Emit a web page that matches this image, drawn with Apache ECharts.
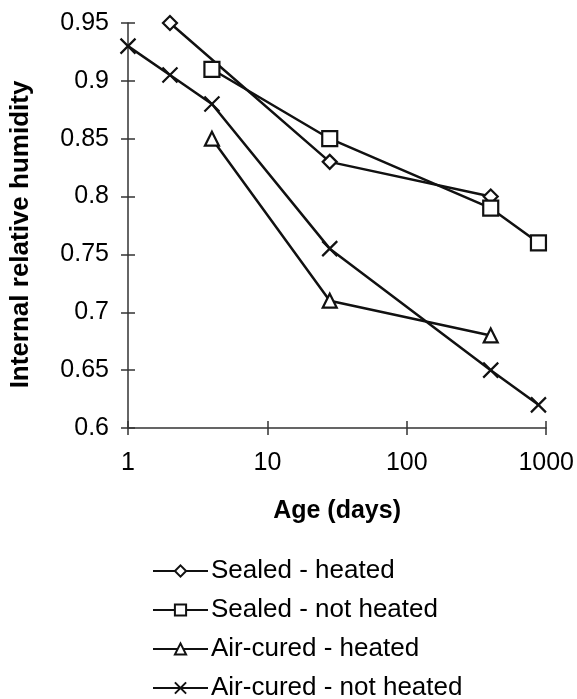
<!DOCTYPE html>
<html>
<head>
<meta charset="utf-8">
<script src="https://cdn.jsdelivr.net/npm/echarts@6/dist/echarts.min.js"></script>
<style>html,body{margin:0;padding:0;background:#fff}#c{width:577px;height:699px}</style>
</head>
<body>
<div id="c"></div>
<script>
var seriesNames = ['Sealed - heated', 'Sealed - not heated', 'Air-cured - heated', 'Air-cured - not heated'];
var sealedHeatedAge = [2, 28, 400];
var sealedHeatedRH = [0.95, 0.83, 0.80];
var sealedNotHeatedAge = [4, 28, 400, 880];
var sealedNotHeatedRH = [0.91, 0.85, 0.79, 0.76];
var airHeatedAge = [4, 28, 400];
var airHeatedRH = [0.85, 0.71, 0.68];
var airNotHeatedAge = [1, 2, 4, 28, 400, 880];
var airNotHeatedRH = [0.93, 0.905, 0.88, 0.755, 0.65, 0.62];
var xTicks = [1, 10, 100, 1000];
var yMin = 0.6, yMax = 0.95, yStep = 0.05;

function pairs(a, b) { return a.map(function (v, i) { return [v, b[i]]; }); }

var font = 'Liberation Sans, Arial, sans-serif';
var ink = '#000';
var symbols = ['diamond', 'rect', 'triangle', 'path://M0,0L10,10M10,0L0,10'];
var sizes = [14, 15, 14, 15];
var datasets = [
  pairs(sealedHeatedAge, sealedHeatedRH),
  pairs(sealedNotHeatedAge, sealedNotHeatedRH),
  pairs(airHeatedAge, airHeatedRH),
  pairs(airNotHeatedAge, airNotHeatedRH)
];

var chart = echarts.init(document.getElementById('c'), null, { renderer: 'canvas' });

var baseX = {
  type: 'log', logBase: 10, min: xTicks[0], max: xTicks[xTicks.length - 1],
  gridIndex: 0, position: 'bottom',
  splitLine: { show: false }, minorTick: { show: false }
};
var baseY = {
  type: 'value', min: yMin, max: yMax, interval: yStep,
  gridIndex: 0, position: 'left', splitLine: { show: false }
};

chart.setOption({
  backgroundColor: '#fff',
  animation: false,
  grid: { left: 128, right: 30, top: 23, bottom: 271, containLabel: false },
  xAxis: [
    Object.assign({}, baseX, {
      name: 'Age (days)', nameLocation: 'middle', nameGap: 71,
      nameTextStyle: { fontFamily: font, fontSize: 25, fontWeight: 'bold', color: ink },
      axisLine: { show: true, lineStyle: { color: '#333', width: 1.5 } },
      axisTick: { show: true, inside: false, length: 7, lineStyle: { color: '#333', width: 1.5 } },
      axisLabel: { show: true, margin: 23, fontFamily: font, fontSize: 25, color: ink,
        formatter: function (v) { return String(Math.round(v)); } }
    }),
    Object.assign({}, baseX, {
      axisLine: { show: false },
      axisTick: { show: true, inside: true, length: 7, lineStyle: { color: '#333', width: 1.5 } },
      axisLabel: { show: false }
    })
  ],
  yAxis: [
    Object.assign({}, baseY, {
      name: 'Internal relative humidity', nameLocation: 'middle', nameGap: 94,
      nameTextStyle: { fontFamily: font, fontSize: 26, fontWeight: 'bold', color: ink, padding: [0, 18, 0, 0] },
      axisLine: { show: true, lineStyle: { color: '#333', width: 1.5 } },
      axisTick: { show: true, inside: false, length: 7, lineStyle: { color: '#333', width: 1.5 } },
      axisLabel: { show: true, margin: 19, fontFamily: font, fontSize: 25, color: ink,
        formatter: function (v) { return String(parseFloat(v.toFixed(2))); } }
    }),
    Object.assign({}, baseY, {
      axisLine: { show: false },
      axisTick: { show: true, inside: true, length: 7, lineStyle: { color: '#333', width: 1.5 } },
      axisLabel: { show: false }
    })
  ],
  legend: {
    orient: 'vertical', left: 147, top: 553, height: 200, itemGap: 13,
    itemWidth: 55, itemHeight: 14,
    textStyle: { fontFamily: font, fontSize: 26, color: ink, padding: [0, 0, 0, -2] },
    data: seriesNames
  },
  series: seriesNames.map(function (n, i) {
    return {
      name: n, type: 'line', xAxisIndex: 0, yAxisIndex: 0,
      data: datasets[i],
      symbol: symbols[i], symbolSize: sizes[i],
      showAllSymbol: true,
      lineStyle: { color: '#111', width: 2.5 },
      itemStyle: { color: '#fff', borderColor: '#111', borderWidth: 2.2 },
      z: 2 + i
    };
  })
});
</script>
</body>
</html>
